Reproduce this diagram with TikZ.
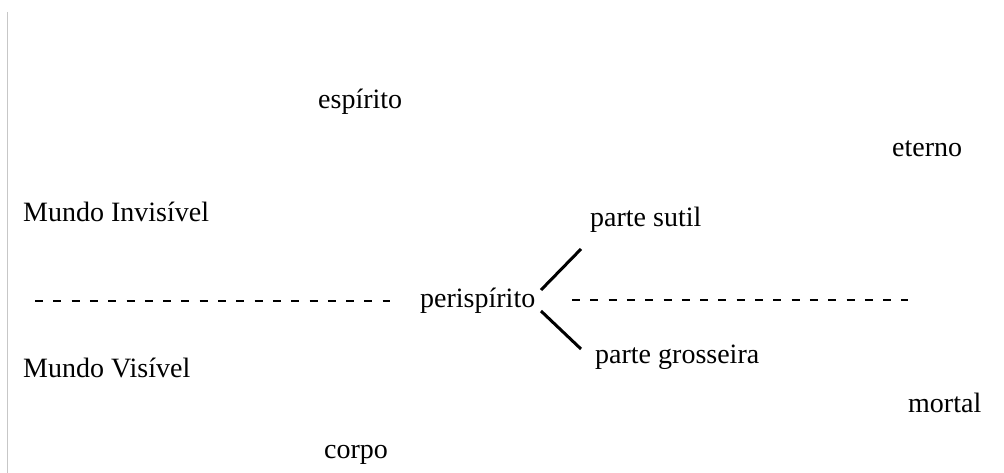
\documentclass[tikz,border=0pt]{standalone}
\usepackage{fontspec}
\setmainfont{Liberation Serif}
\begin{document}
\begin{tikzpicture}[x=1pt,y=-1pt,
  lbl/.style={anchor=base west,inner sep=0pt,font=\fontsize{28}{30}\selectfont},
  dashln/.style={line width=1.8pt,dash pattern=on 8pt off 10.3pt},
  branch/.style={line width=3pt}]
\useasboundingbox (0,0) rectangle (1004,473);
\fill[white] (0,0) rectangle (1004,473);
\draw[line width=1pt,color=black!22] (7.5,12) -- (7.5,473);
\node[lbl] (esp) at (318,109) {espírito};
\node[lbl] (eter) at (892,157) {eterno};
\node[lbl] (mi) at (23,222) {Mundo Invisível};
\node[lbl] (sutil) at (590,227) {parte sutil};
\node[lbl] (peri) at (420,307) {perispírito};
\node[lbl] (gros) at (595,363) {parte grosseira};
\node[lbl] (mv) at (23,377) {Mundo Visível};
\node[lbl] (mort) at (908,412) {mortal};
\node[lbl] (corp) at (324,458) {corpo};
\coordinate (l1) at (35,301);
\coordinate (l2) at (390,301);
\coordinate (r1) at (572,300);
\coordinate (r2) at (908,300);
\coordinate (u1) at (541,290);
\coordinate (u2) at (581,249);
\coordinate (d1) at (541,311);
\coordinate (d2) at (581,349);
\draw[dashln] (l1) -- (l2);
\draw[dashln] (r1) -- (r2);
\draw[branch] (u1) -- (u2);
\draw[branch] (d1) -- (d2);
\end{tikzpicture}
\end{document}
